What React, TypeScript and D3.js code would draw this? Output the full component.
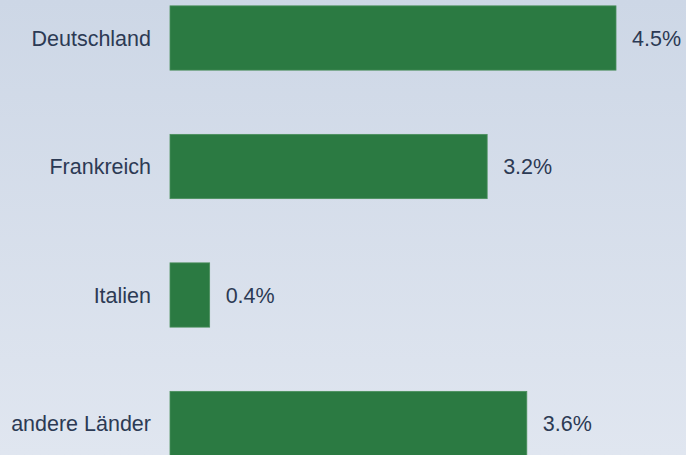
import { useEffect, useRef } from 'react'
import * as d3 from 'd3'

const countries = ['Deutschland', 'Frankreich', 'Italien', 'andere Länder']
const shares = [4.5, 3.2, 0.4, 3.6]
const shareLabels = ['4.5%', '3.2%', '0.4%', '3.6%']

export default function App() {
  const svgRef = useRef<SVGSVGElement>(null)

  useEffect(() => {
    if (!svgRef.current) return
    const width = 686
    const height = 455

    const svg = d3.select(svgRef.current)
    svg.selectAll('*').remove()
    svg.attr('width', width).attr('height', height)

    // Background gradient
    const defs = svg.append('defs')
    const grad = defs.append('linearGradient')
      .attr('id', 'bg-grad')
      .attr('x1', '0').attr('y1', '0')
      .attr('x2', '0').attr('y2', '1')
    grad.append('stop').attr('offset', '0%').attr('stop-color', '#cdd7e6')
    grad.append('stop').attr('offset', '100%').attr('stop-color', '#e0e6f0')

    svg.append('rect')
      .attr('width', width).attr('height', height)
      .attr('fill', 'url(#bg-grad)')

    const data = countries.map((c, i) => ({ country: c, value: shares[i], label: shareLabels[i] }))

    const x = d3.scaleLinear()
      .domain([0, d3.max(shares)!])
      .range([170, 616])

    const y = d3.scaleBand<string>()
      .domain(countries)
      .range([-26.25, 487.75])
      .paddingInner(0.5)
      .paddingOuter(0.25)

    const font = 'Arial, "Liberation Sans", sans-serif'
    const textColor = '#2c3a54'
    const fontSize = 21.5

    // Bars
    svg.append('g')
      .selectAll('rect')
      .data(data)
      .join('rect')
      .attr('x', x(0))
      .attr('y', d => y(d.country)!)
      .attr('width', d => x(d.value) - x(0))
      .attr('height', y.bandwidth())
      .attr('fill', '#2b7a42')
      .attr('stroke', '#4a8f5c')
      .attr('stroke-width', 0.8)

    // Category labels
    svg.append('g')
      .selectAll('text')
      .data(data)
      .join('text')
      .attr('x', 151)
      .attr('y', d => y(d.country)! + y.bandwidth() / 2)
      .attr('dy', '0.35em')
      .attr('text-anchor', 'end')
      .attr('font-family', font)
      .attr('font-size', fontSize)
      .attr('fill', textColor)
      .text(d => d.country)

    // Value labels
    svg.append('g')
      .selectAll('text')
      .data(data)
      .join('text')
      .attr('x', d => x(d.value) + 16)
      .attr('y', d => y(d.country)! + y.bandwidth() / 2)
      .attr('dy', '0.35em')
      .attr('font-family', font)
      .attr('font-size', fontSize)
      .attr('fill', textColor)
      .text(d => d.label)
  }, [])

  return (
    <div style={{ position: 'fixed', left: 0, top: 0, width: 686, height: 455, overflow: 'hidden' }}>
      <svg ref={svgRef} style={{ display: 'block' }} />
    </div>
  )
}
